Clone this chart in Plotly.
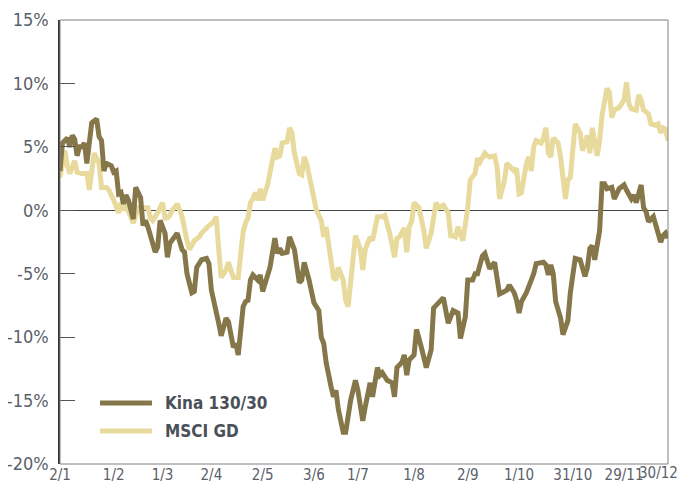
import plotly.graph_objects as go

# Trading-day index (0 = 2 Jan, 249 = 30 Dec) and cumulative return in %
kina_day = [0, 1, 3, 4, 5, 6, 7, 8, 9, 10, 11, 12, 13, 15, 16, 17, 18, 19, 21, 22,
            23, 24, 25, 26, 27, 28, 30, 31, 33, 34, 35, 36, 38, 39, 40, 41, 43, 44, 45, 47,
            48, 50, 51, 52, 54, 55, 56, 58, 60, 61, 62, 65, 66, 68, 69, 71, 72, 73, 75, 76,
            77, 78, 79, 81, 82, 83, 85, 86, 88, 89, 90, 91, 93, 94, 96, 98, 99, 100, 102, 104,
            106, 107, 108, 109, 111, 112, 113, 114, 116, 117, 119, 121, 122, 124, 125, 127, 128, 130, 131, 132,
            134, 136, 137, 138, 140, 141, 142, 143, 145, 146, 148, 150, 152, 153, 155, 157, 159, 161, 163, 164,
            166, 167, 169, 170, 171, 173, 174, 176, 178, 179, 180, 181, 183, 184, 186, 187, 188, 189, 191, 193,
            194, 195, 198, 199, 200, 201, 202, 203, 205, 206, 208, 209, 211, 213, 215, 216, 217, 218, 219, 221,
            222, 223, 224, 226, 227, 229, 231, 232, 234, 235, 236, 238, 239, 240, 241, 243, 244, 246, 247, 248,
            249]
kina_pct = [3.1, 5.3, 5.7, 5.0, 5.9, 5.6, 4.3, 5.0, 5.0, 5.3, 3.7, 5.3, 6.9, 7.2, 5.8, 5.5, 3.1, 3.7, 3.5, 3.0,
            3.1, 1.3, 1.4, 0.5, 1.2, 0.8, -0.7, 1.8, 1.0, -1.2, -0.8, -1.3, -2.9, -3.3, -2.9, -0.8, -1.8, -3.7, -2.6, -2.0,
            -1.8, -3.1, -3.3, -5.0, -6.5, -6.4, -4.5, -3.9, -3.8, -4.2, -6.3, -8.9, -9.9, -8.5, -8.8, -10.8, -10.5, -11.4, -7.6, -7.2,
            -7.1, -5.5, -5.1, -5.5, -5.1, -6.4, -5.0, -4.5, -2.2, -3.4, -3.0, -3.4, -3.3, -2.1, -3.1, -5.7, -5.5, -4.1, -5.5, -7.3,
            -7.9, -10.0, -10.5, -12.0, -13.9, -14.7, -14.2, -15.7, -17.5, -17.5, -15.0, -13.4, -14.2, -16.6, -15.5, -13.6, -14.7, -12.4, -13.0, -12.8,
            -13.4, -13.6, -14.7, -12.4, -12.0, -11.4, -13.0, -11.8, -11.4, -9.4, -10.8, -12.4, -11.0, -7.7, -7.3, -6.9, -8.9, -7.9, -8.1, -10.1,
            -8.4, -5.5, -5.5, -5.0, -5.0, -3.6, -3.4, -4.6, -4.1, -5.1, -6.6, -6.5, -6.3, -5.9, -6.5, -7.1, -8.1, -7.2, -6.5, -5.5,
            -5.0, -4.2, -4.1, -4.3, -5.1, -4.3, -5.0, -7.2, -8.5, -9.8, -8.7, -6.5, -3.8, -3.9, -5.2, -4.5, -3.0, -2.8, -3.9, -1.6,
            2.1, 2.1, 1.7, 1.8, 0.9, 1.7, 2.0, 1.6, 0.9, 1.2, 0.6, 2.0, 0.2, -0.1, -0.9, -0.5, -1.3, -2.5, -2.0, -1.8,
            -2.2]

msci_day = [0, 2, 3, 4, 6, 7, 9, 11, 12, 13, 14, 16, 17, 19, 20, 22, 24, 25, 26, 27,
            30, 32, 34, 36, 37, 38, 40, 42, 43, 44, 45, 46, 48, 49, 50, 52, 53, 55, 57, 58,
            60, 61, 63, 64, 65, 66, 68, 69, 70, 71, 73, 75, 76, 77, 78, 79, 80, 81, 82, 83,
            85, 86, 88, 89, 90, 91, 93, 94, 95, 96, 98, 99, 100, 101, 103, 104, 105, 107, 108, 109,
            110, 111, 112, 113, 114, 116, 117, 118, 119, 120, 121, 123, 124, 125, 127, 128, 130, 132, 133, 135,
            137, 138, 139, 141, 142, 143, 144, 145, 147, 149, 150, 152, 154, 155, 157, 159, 160, 161, 162, 163,
            165, 167, 168, 170, 171, 172, 174, 175, 176, 178, 179, 180, 182, 183, 184, 186, 187, 188, 189, 191,
            192, 193, 194, 195, 197, 198, 199, 200, 201, 202, 204, 205, 207, 208, 209, 211, 213, 214, 216, 217,
            218, 220, 221, 222, 224, 225, 226, 227, 229, 230, 231, 232, 233, 234, 236, 237, 238, 239, 241, 242,
            244, 245, 246, 247, 248, 249]
msci_pct = [2.6, 4.7, 3.5, 2.9, 3.9, 3.0, 2.9, 2.9, 1.6, 3.1, 4.5, 3.7, 1.8, 1.8, 1.6, 0.8, -0.2, 0.6, 0.0, 0.4,
            -1.0, 0.2, 0.2, 0.2, -0.6, -0.8, -0.2, 0.6, -0.6, -0.6, -0.4, 0.0, 0.5, 0.0, -0.5, -2.4, -3.1, -2.4, -2.1, -1.8,
            -1.3, -1.2, -0.9, -0.5, -3.1, -5.3, -4.7, -4.1, -4.7, -5.3, -5.3, -1.7, -1.0, -0.6, 0.6, 0.9, 1.4, 0.8, 1.7, 0.8,
            2.0, 3.0, 4.9, 4.2, 4.3, 5.3, 5.4, 6.5, 6.1, 4.5, 2.9, 2.8, 4.2, 3.7, 1.8, 0.9, 0.0, -0.8, -2.1, -1.3,
            -2.6, -3.7, -5.3, -5.5, -4.5, -5.5, -7.1, -7.6, -5.7, -3.7, -2.0, -3.1, -4.7, -3.1, -2.1, -2.4, -0.5, -0.5, -0.4, -1.8,
            -3.7, -2.2, -2.1, -1.4, -3.3, -1.3, -0.9, 0.6, 0.2, -1.6, -3.0, -1.8, 0.6, 0.2, 0.4, -0.2, -2.0, -2.0, -2.1, -1.3,
            -2.4, 0.2, 2.4, 2.9, 4.1, 3.8, 4.5, 4.3, 4.2, 4.3, 3.4, 0.9, 2.3, 3.7, 3.5, 3.1, 3.3, 1.3, 1.4, 3.7,
            4.2, 3.1, 5.0, 5.5, 5.3, 5.7, 6.5, 4.5, 4.2, 5.7, 5.3, 4.2, 0.9, 2.4, 2.6, 6.8, 6.1, 4.7, 5.9, 4.5,
            6.5, 4.3, 5.5, 7.5, 9.6, 9.3, 7.3, 7.9, 8.1, 8.4, 8.7, 10.1, 8.4, 8.0, 7.9, 9.1, 8.7, 7.9, 7.6, 6.8,
            6.7, 6.8, 6.1, 6.5, 6.4, 5.5]

tick_days = [0, 22, 42, 62, 83, 104, 122, 145, 167, 188, 210, 231]
tick_labels = ["2/1", "1/2", "1/3", "2/4", "2/5", "3/6", "1/7", "1/8", "2/9", "1/10",
               "31/10", "29/11"]
last_day, last_label = 249, "30/12"
y_ticks = [-20, -15, -10, -5, 0, 5, 10, 15]
y_tick_labels = ["-20%", "-15%", "-10%", "-5%", "0%", "5%", "10%", "15%"]

series_names = ["Kina 130/30", "MSCI GD"]
dark = "#86774a"
light = "#e8da9c"
font_family = "DejaVu Sans Condensed, Liberation Sans Narrow, sans-serif"
label_color = "#5a6068"
xfont = dict(family=font_family, size=15, color=label_color)

fig = go.Figure()
fig.add_trace(go.Scatter(x=msci_day, y=msci_pct, mode="lines", name=series_names[1],
                         line=dict(color=light, width=5), showlegend=False))
fig.add_trace(go.Scatter(x=kina_day, y=kina_pct, mode="lines", name=series_names[0],
                         line=dict(color=dark, width=5), showlegend=False))

# frame
fig.add_shape(type="rect", xref="paper", yref="paper", x0=0, y0=0, x1=1, y1=1,
              line=dict(color="#808080", width=1), layer="above")

# last x label, right-aligned so it stays inside the window
fig.add_annotation(x=last_day, xref="x", y=0, yref="paper", text=last_label,
                   showarrow=False, xanchor="right", yanchor="top", xshift=12, yshift=2,
                   font=xfont)

# manual legend
leg_x0, leg_x1, leg_tx = 0.0658, 0.1513, 0.169
leg_y = [0.1374, 0.0743]
for name, col, yy in zip(series_names, [dark, light], leg_y):
    fig.add_shape(type="line", xref="paper", yref="paper", x0=leg_x0, x1=leg_x1, y0=yy, y1=yy,
                  line=dict(color=col, width=5))
    fig.add_annotation(xref="paper", yref="paper", x=leg_tx, y=yy, text="<b>" + name + "</b>",
                       showarrow=False, xanchor="left", yanchor="middle",
                       font=dict(family=font_family, size=17, color="#4a5058"))

# page body has an 8px margin, so the figure is sized/margined to land the plot
# area at the same window position as the reference
fig.update_layout(
    width=680, height=485,
    margin=dict(l=52, r=20, t=12, b=29, autoexpand=False),
    paper_bgcolor="white", plot_bgcolor="white",
    font=dict(family=font_family, size=18, color=label_color),
)
fig.update_xaxes(range=[0, 249], tickvals=tick_days, ticktext=tick_labels,
                 showgrid=False, zeroline=False, showline=False, ticks="",
                 automargin=False, tickangle=0, ticklabeloverflow="allow",
                 tickfont=xfont)
fig.update_yaxes(range=[-20, 15], tickvals=y_ticks, ticktext=y_tick_labels,
                 showgrid=False, zeroline=True, zerolinecolor="#444444", zerolinewidth=1,
                 showline=True, linecolor="#333333", linewidth=1.5,
                 ticks="inside", ticklen=15, tickcolor="#555555", tickwidth=1,
                 automargin=False, ticklabelstandoff=6, ticklabeloverflow="allow",
                 tickfont=dict(size=18, color=label_color))

fig.write_html("out.html")
